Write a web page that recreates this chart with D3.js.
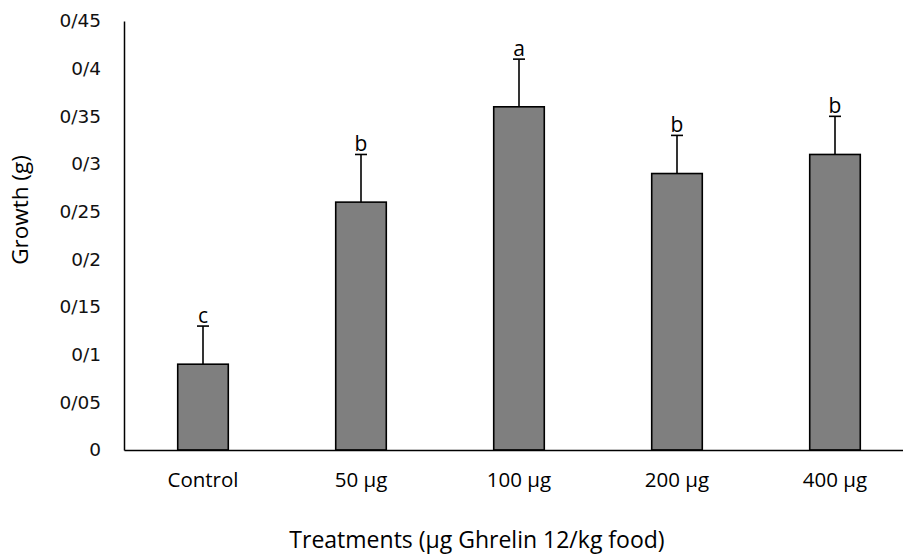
<!DOCTYPE html>
<html>
<head>
<style>
  body { margin: 0; background: #fff; }
</style>
</head>
<body>

<script src="https://d3js.org/d3.v7.min.js"></script>

<script>

// data
const treatments = ['Control', '50 µg', '100 µg', '200 µg', '400 µg'];
const growth = [0.09, 0.26, 0.36, 0.29, 0.31];
const errors = [0.04, 0.05, 0.05, 0.04, 0.04];
const letters = ['c', 'b', 'a', 'b', 'b'];
const yTicks = [0, 0.05, 0.1, 0.15, 0.2, 0.25, 0.3, 0.35, 0.4, 0.45];
const yTickLabels = ['0', '0/05', '0/1', '0/15', '0/2', '0/25', '0/3', '0/35', '0/4', '0/45'];

const width = 903;
const height = 556;
const labelFont = '"Open Sans", Lato, sans-serif';

const svg = d3.select('body')
              .append('svg')
              .attr('width', width)
              .attr('height', height);

const x = d3.scaleBand()
            .domain(treatments)
            .range([124, 914])
            .paddingInner(0.68)
            .paddingOuter(0.34);

const y = d3.scaleLinear()
            .domain([0, 0.45])
            .range([450, 21]);

// y axis: line only, labels in DejaVu
const yAxis = svg.append('g')
  .attr('transform', 'translate(124,0)')
  .call(d3.axisLeft(y).tickValues(yTicks).tickSize(0).tickPadding(23)
          .tickFormat((d, i) => yTickLabels[i]));

yAxis.select('.domain').attr('stroke', '#000').attr('stroke-width', 1.5);
yAxis.selectAll('text')
  .attr('font-family', '"DejaVu Sans", sans-serif')
  .attr('font-size', 18.5)
  .attr('fill', '#111');

// bars
svg.selectAll('rect.bar')
  .data(treatments)
  .enter()
  .append('rect')
    .attr('class', 'bar')
    .attr('x', d => x(d))
    .attr('y', (d, i) => y(growth[i]))
    .attr('width', x.bandwidth())
    .attr('height', (d, i) => y(0) - y(growth[i]))
    .attr('fill', '#7f7f7f')
    .attr('stroke', '#000')
    .attr('stroke-width', 1.6);

// error bars (upper only)
const err = svg.append('g').attr('stroke', '#000').attr('stroke-width', 1.6);
treatments.forEach((t, i) => {
  const cx = x(t) + x.bandwidth() / 2;
  err.append('line')
    .attr('x1', cx).attr('x2', cx)
    .attr('y1', y(growth[i])).attr('y2', y(growth[i] + errors[i]));
  err.append('line')
    .attr('x1', cx - 6).attr('x2', cx + 6)
    .attr('y1', y(growth[i] + errors[i])).attr('y2', y(growth[i] + errors[i]));
});

// significance letters
svg.selectAll('text.letter')
  .data(treatments)
  .enter()
  .append('text')
    .attr('class', 'letter')
    .attr('x', d => x(d) + x.bandwidth() / 2)
    .attr('y', (d, i) => y(growth[i] + errors[i]) - 3)
    .attr('text-anchor', 'middle')
    .attr('font-family', labelFont)
    .attr('font-size', 21)
    .text((d, i) => letters[i]);

// x axis baseline
const xAxis = svg.append('g')
  .attr('transform', 'translate(0,450)')
  .call(d3.axisBottom(x).tickSize(0).tickPadding(22));

xAxis.select('.domain').attr('stroke', '#000').attr('stroke-width', 1.5);
xAxis.selectAll('text')
  .attr('font-family', labelFont)
  .attr('font-size', 20.5)
  .attr('fill', '#000');

// axis titles
svg.append('text')
  .attr('x', 477)
  .attr('y', 548)
  .attr('text-anchor', 'middle')
  .attr('font-family', labelFont)
  .attr('font-size', 23)
  .text('Treatments (µg Ghrelin 12/kg food)');

svg.append('text')
  .attr('transform', 'translate(28,210) rotate(-90)')
  .attr('text-anchor', 'middle')
  .attr('font-family', labelFont)
  .attr('font-size', 22.5)
  .text('Growth (g)');

</script>
</body>
</html>
